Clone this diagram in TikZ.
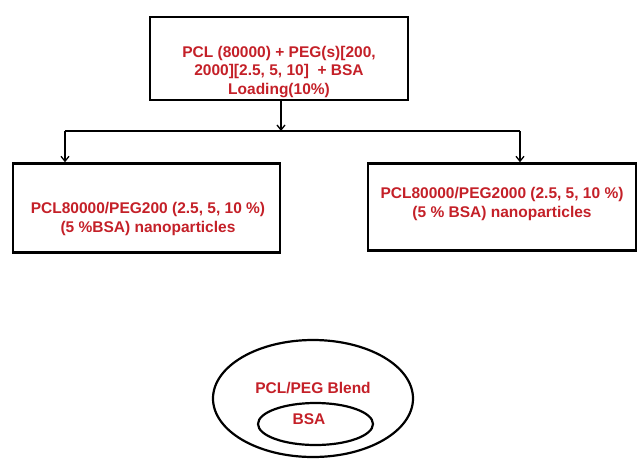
\documentclass[tikz,border=0pt]{standalone}
\usepackage{fontspec}
\setmainfont{Liberation Sans}
\usetikzlibrary{
  arrows.meta, % For arrow tips
  shapes.geometric % For the ellipses
}
\definecolor{labelred}{RGB}{196,32,40}

\begin{document}
\begin{tikzpicture}[
      x=1pt, y={(0pt,-1pt)}, % pixel-like units, y downwards
      box/.style={draw, line width=2.4pt, minimum width=#1, inner sep=0pt},
      txt/.style={labelred, font=\bfseries\fontsize{15.5}{18.5}\selectfont, align=center, inner sep=0pt},
      link/.style={line width=1.3pt},
      feed/.style={link, -{Straight Barb[length=5pt, width=8pt, line width=1.3pt]}},
      blob/.style={draw, ellipse, line width=2.2pt, inner sep=0pt},
    ]

    % Rahmen
    \useasboundingbox (0,0) rectangle (638,459);

    % Ausgangsmischung
    \node[box=258pt, minimum height=83pt] (mix) at (279,58.5) {};
    \node[txt] (mixtext) at (279,72) {PCL (80000) + PEG(s)[200,\\2000][2.5, 5, 10]\ \ + BSA\\Loading(10\%)};

    % Nanopartikel
    \node[box=267pt, minimum height=89pt] (low) at (146.5,208) {};
    \node[txt] (lowtext) at (148,219) {PCL80000/PEG200 (2.5, 5, 10 \%)\\(5 \%BSA) nanoparticles};
    \node[box=268pt, minimum height=87pt] (high) at (502,207) {};
    \node[txt] (hightext) at (502,204) {PCL80000/PEG2000 (2.5, 5, 10 \%)\\(5 \% BSA) nanoparticles};

    % Verzweigung
    \coordinate (split) at (281,131);
    \coordinate (splitL) at (65,131);
    \coordinate (splitR) at (520,131);
    \draw[feed] (mix.south -| split) -- (split);
    \draw[link] (splitL) -- (splitR);
    \draw[feed] (splitL) -- (splitL |- low.north);
    \draw[feed] (splitR) -- (splitR |- high.north);

    % Blend mit BSA-Kern
    \node[blob, minimum width=200pt, minimum height=117pt] (blend) at (313,398.5) {};
    \node[blob, minimum width=115pt, minimum height=42pt] (core) at (315.5,424) {};
    \node[txt] (blendtext) at (313,388) {PCL/PEG Blend};
    \node[txt] (coretext) at (309,419) {BSA};
  \end{tikzpicture}
\end{document}
